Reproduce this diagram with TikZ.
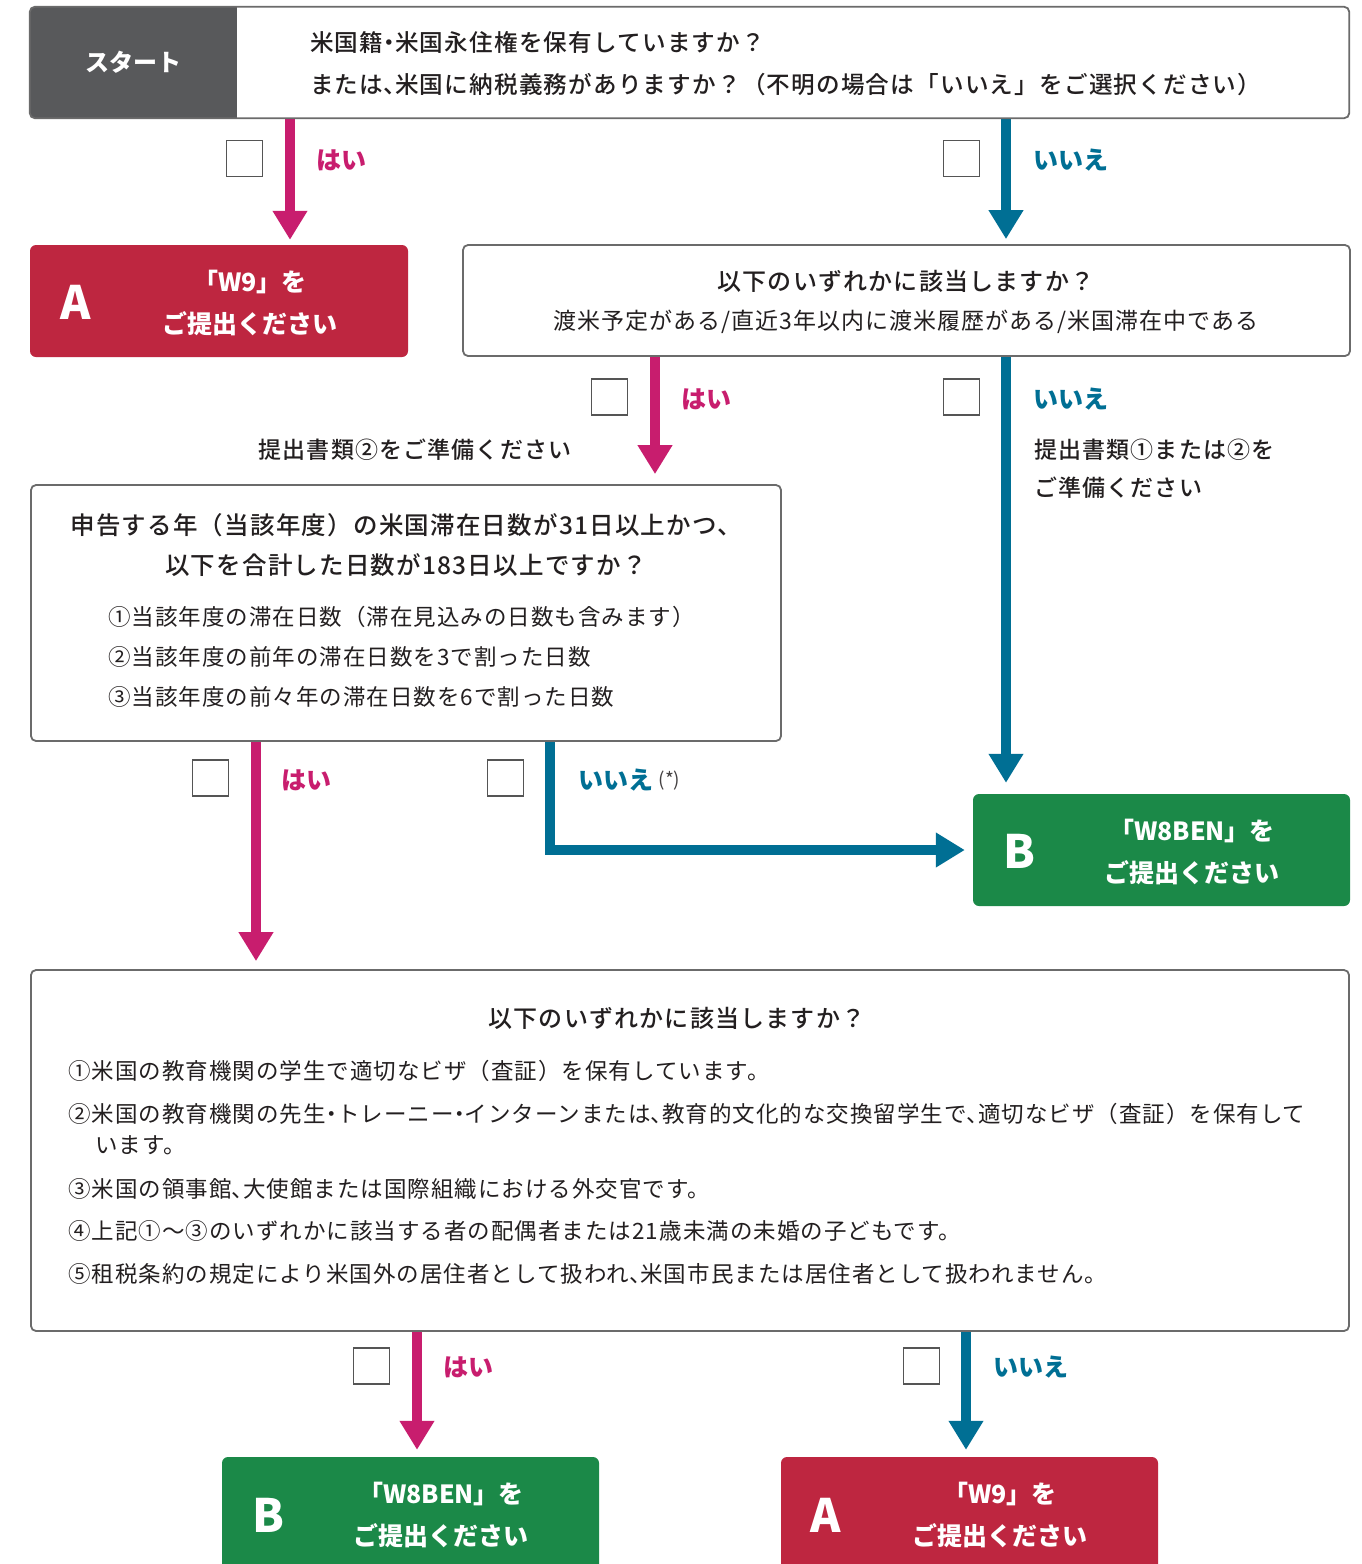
\documentclass[tikz,border=0pt]{standalone}
\usepackage{fontspec}
\setmainfont{Noto Sans CJK JP}
\newfontfamily\medfont{Noto Sans CJK JP Medium}[LetterSpace=5]
\newfontfamily\regfont{Noto Sans CJK JP}[LetterSpace=4.5]
\newcommand\hcl[1]{\makebox[.5em][l]{#1}}
\newcommand\hcc[1]{\makebox[.5em][c]{#1}}
\usetikzlibrary{arrows.meta}
\pgfdeclarelayer{bg}\pgfsetlayers{bg,main}
\definecolor{yescol}{HTML}{C81D6E}
\definecolor{nocol}{HTML}{006F94}
\definecolor{redA}{HTML}{BE2640}
\definecolor{greenB}{HTML}{1B8948}
\definecolor{startgray}{HTML}{58595B}
\definecolor{bordergray}{HTML}{6B6B6B}
\definecolor{txt}{HTML}{231F20}
\definecolor{chkgray}{HTML}{555555}
\begin{document}
\begin{tikzpicture}[x=1pt,y=-1pt,
  qbox/.style={fill=white, draw=bordergray, line width=1.8pt, rounded corners=5pt, inner sep=0pt},
  redbox/.style={fill=redA, rounded corners=6pt, inner sep=0pt},
  greenbox/.style={fill=greenB, rounded corners=6pt, inner sep=0pt},
  yesarrow/.style={draw=yescol, line width=10pt, -{Triangle[width=33pt,length=29pt]}},
  noarrow/.style={draw=nocol, line width=10pt, -{Triangle[width=33pt,length=29pt]}},
  chk/.style={draw=chkgray, fill=white, line width=1.5pt, minimum size=36pt, inner sep=0pt},
  yeslbl/.style={text=yescol, anchor=west, inner sep=0pt, font=\bfseries\fontsize{25}{30}\selectfont},
  nolbl/.style={text=nocol, anchor=west, inner sep=0pt, font=\bfseries\fontsize{25}{30}\selectfont},
  letter/.style={text=white, inner sep=0pt, font=\bfseries\fontsize{46}{50}\selectfont},
  restxt/.style={text=white, inner sep=0pt, align=center, font=\bfseries\fontsize{25}{42}\selectfont},
  medtxt/.style={text=txt, inner sep=0pt, font=\medfont\fontsize{24}{40}\selectfont},
  regtxt/.style={text=txt, inner sep=0pt, font=\regfont\fontsize{22.5}{40}\selectfont},
]
\useasboundingbox (0,0) rectangle (1361,1564);
\begin{pgfonlayer}{bg}
\fill[white] (0,0) rectangle (1361,1564);
\end{pgfonlayer}

% ---------- boxes ----------
\node[fill=white, inner sep=0pt, minimum width=1319pt, minimum height=111pt] (start) at (689.5,62.5) {};
\begin{scope}
\clip[rounded corners=5pt] (start.north west) rectangle (start.south east);
\fill[startgray] (start.north west) rectangle (237,118);
\end{scope}
\draw[bordergray, line width=1.8pt, rounded corners=5pt] (start.north west) rectangle (start.south east);
\node[text=white, inner sep=0pt, font=\bfseries\fontsize{24}{30}\selectfont] (starttxt) at (133.5,62) {スタート};
\node[medtxt, anchor=west, align=left, font=\medfont\fontsize{23.6}{42}\selectfont] (q1txt) at (310,64)
  {米国籍\hcc{・}米国永住権を保有していますか？\\または\hcl{、}米国に納税義務がありますか？（不明の場合は「いいえ」をご選択ください）};

\node[redbox, minimum width=378pt, minimum height=112pt] (A1) at (219,301) {};
\node[letter] (A1l) at (76,302) {A};
\node[restxt] (A1t) at (250,303) {「W9」を\\ご提出ください};

\node[qbox, minimum width=887pt, minimum height=111pt] (Q2) at (906.5,300.5) {};
\node[medtxt] (Q2t) at (906,281) {以下のいずれかに該当しますか？};
\node[regtxt, font=\regfont\fontsize{23}{30}\selectfont] (Q2s) at (906,322) {渡米予定がある/直近3年以内に渡米履歴がある/米国滞在中である};

\node[medtxt, font=\medfont\fontsize{23}{30}\selectfont] (doc2) at (415,450) {提出書類②をご準備ください};
\node[medtxt, anchor=west, align=left, font=\medfont\fontsize{23}{38}\selectfont] (doc12) at (1034,469) {提出書類①または②を\\ご準備ください};

\node[qbox, minimum width=750pt, minimum height=256pt] (Q3) at (406,613) {};
\node[medtxt, align=center, font=\medfont\fontsize{24.5}{40}\selectfont] (Q3t) at (406,545)
  {申告する年（当該年度）の米国滞在日数が31日以上かつ、\\以下を合計した日数が183日以上ですか？};
\node[regtxt, anchor=west, align=left] (Q3i) at (108,657)
  {①当該年度の滞在日数（滞在見込みの日数も含みます）\\②当該年度の前年の滞在日数を3で割った日数\\③当該年度の前々年の滞在日数を6で割った日数};

\node[greenbox, minimum width=377pt, minimum height=112pt] (B1) at (1161.5,850) {};
\node[letter] (B1l) at (1019,851) {B};
\node[restxt] (B1t) at (1192,852) {「W8BEN」を\\ご提出ください};

\node[qbox, minimum width=1318pt, minimum height=361pt] (Q4) at (690,1150.5) {};
\node[medtxt] (Q4t) at (677,1018) {以下のいずれかに該当しますか？};
\node[regtxt, anchor=west] (Q4a) at (68,1071) {①米国の教育機関の学生で適切なビザ（査証）を保有しています。};
\node[regtxt, anchor=west, align=left, font=\regfont\fontsize{22.5}{31}\selectfont] (Q4b) at (68,1129.5)
  {②米国の教育機関の先生\hcc{・}トレーニー\hcc{・}インターンまたは\hcl{、}教育的文化的な交換留学生で\hcl{、}適切なビザ（査証）を保有して\\\hspace*{27pt}います。};
\node[regtxt, anchor=west] (Q4c) at (68,1189) {③米国の領事館\hcl{、}大使館または国際組織における外交官です。};
\node[regtxt, anchor=west] (Q4d) at (68,1231) {④上記①〜③のいずれかに該当する者の配偶者または21歳未満の未婚の子どもです。};
\node[regtxt, anchor=west] (Q4e) at (68,1274) {⑤租税条約の規定により米国外の居住者として扱われ\hcl{、}米国市民または居住者として扱われません。};

\node[greenbox, minimum width=377pt, minimum height=140pt] (B2) at (410.5,1527) {};
\node[letter] (B2l) at (268,1515) {B};
\node[restxt] (B2t) at (441,1515) {「W8BEN」を\\ご提出ください};

\node[redbox, minimum width=377pt, minimum height=140pt] (A2) at (969.5,1527) {};
\node[letter] (A2l) at (826,1515) {A};
\node[restxt] (A2t) at (1000,1515) {「W9」を\\ご提出ください};

% ---------- checkboxes and labels ----------
\node[chk] (c1) at (244.5,158.5) {};
\node[yeslbl] (l1) at (316,160) {はい};
\node[chk] (c2) at (961.5,158.5) {};
\node[nolbl] (l2) at (1033,160) {いいえ};
\node[chk] (c3) at (609.5,397) {};
\node[yeslbl] (l3) at (681,399) {はい};
\node[chk] (c4) at (961.5,397) {};
\node[nolbl] (l4) at (1033,399) {いいえ};
\node[chk] (c5) at (210.5,778) {};
\node[yeslbl] (l5) at (281,780) {はい};
\node[chk] (c6) at (505.5,778) {};
\node[nolbl] (l6) at (578,780) {いいえ};
\node[text=txt!85, anchor=west, inner sep=0pt, xshift=5pt, yshift=-1pt, font=\fontsize{19}{22}\selectfont] (l6s) at (l6.east) {(*)};
\node[chk] (c7) at (371.5,1366) {};
\node[yeslbl] (l7) at (443,1367) {はい};
\node[chk] (c8) at (921.5,1366) {};
\node[nolbl] (l8) at (993,1367) {いいえ};

% ---------- arrows ----------
\coordinate (x290) at (290,0);
\coordinate (x1006) at (1006,0);
\coordinate (x655) at (655,0);
\coordinate (x256) at (256,0);
\coordinate (x550) at (550,0);
\coordinate (x417) at (417,0);
\coordinate (x966) at (966,0);
\begin{pgfonlayer}{bg}
\draw[yesarrow, shorten >=5pt] (start.south -| x290) -- (A1.north -| x290);
\draw[noarrow, shorten >=5pt] (start.south -| x1006) -- (Q2.north -| x1006);
\draw[yesarrow, shorten >=10pt] (Q2.south -| x655) -- (Q3.north -| x655);
\draw[noarrow, shorten >=11pt] (Q2.south -| x1006) -- (B1.north -| x1006);
\draw[yesarrow, shorten >=8pt] (Q3.south -| x256) -- (Q4.north -| x256);
\draw[noarrow, shorten >=8pt] (Q3.south -| x550) |- (B1.west);
\draw[yesarrow, shorten >=7pt] (Q4.south -| x417) -- (B2.north -| x417);
\draw[noarrow, shorten >=7pt] (Q4.south -| x966) -- (A2.north -| x966);
\end{pgfonlayer}
\end{tikzpicture}
\end{document}
